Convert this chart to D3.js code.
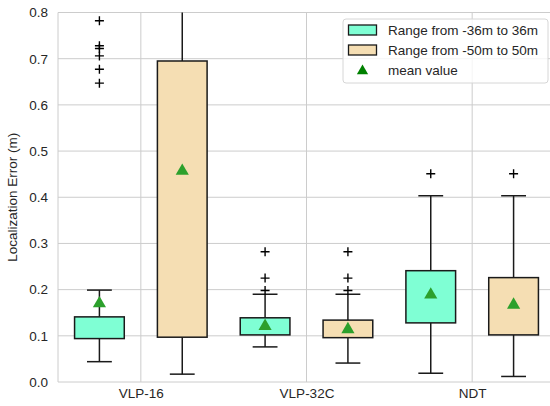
<!DOCTYPE html>
<html>
<head>
<meta charset="utf-8">
<script src="https://cdn.jsdelivr.net/npm/d3@7"></script>
<style>
  body { margin: 0; background: #fff; }
  text { font-family: "Liberation Sans", Arial, sans-serif; }
</style>
</head>
<body>
<div id="chart"></div>
<script>
const categories = ["VLP-16", "VLP-32C", "NDT"];
const seriesNames = ["Range from -36m to 36m", "Range from -50m to 50m"];
const seriesColors = ["#7fffd4", "#f5deb3"];
const yTicks = [0.0, 0.1, 0.2, 0.3, 0.4, 0.5, 0.6, 0.7, 0.8];

// box stats per series, in category order: [whiskerLow, q1, q3, whiskerHigh]
const boxes36 = [
  [0.044, 0.094, 0.141, 0.199],
  [0.076, 0.102, 0.139, 0.190],
  [0.019, 0.128, 0.241, 0.403]
];
const boxes50 = [
  [0.017, 0.097, 0.695, 1.50],
  [0.041, 0.096, 0.134, 0.190],
  [0.012, 0.102, 0.226, 0.403]
];
const means36 = [0.172, 0.123, 0.191];
const means50 = [0.459, 0.116, 0.169];
const outliers36 = [
  [0.647, 0.677, 0.706, 0.722, 0.728, 0.782],
  [0.198, 0.225, 0.282],
  [0.451]
];
const outliers50 = [
  [],
  [0.198, 0.225, 0.282],
  [0.451]
];

const W = 550, H = 406;
const margin = {left: 58, top: 12.5, bottom: 24};
const x = d3.scaleLinear().domain([0.5, 3.5]).range([58, 555]);
const y = d3.scaleLinear().domain([0, 0.8]).range([H - margin.bottom, margin.top]);

const svg = d3.select("#chart").append("svg")
  .attr("width", W).attr("height", H);

svg.append("clipPath").attr("id", "plot")
  .append("rect")
  .attr("x", x(0.5)).attr("y", y(0.8))
  .attr("width", x(3.5) - x(0.5)).attr("height", y(0) - y(0.8));

// grid
const grid = svg.append("g").attr("stroke", "#cccccc").attr("stroke-width", 1);
grid.selectAll("line.h").data(yTicks).join("line")
  .attr("x1", x(0.5)).attr("x2", x(3.5))
  .attr("y1", d => y(d)).attr("y2", d => y(d));
grid.selectAll("line.v").data(categories).join("line")
  .attr("x1", (d, i) => x(i + 1)).attr("x2", (d, i) => x(i + 1))
  .attr("y1", y(0)).attr("y2", y(0.8));
grid.append("line")
  .attr("x1", x(0.5)).attr("x2", x(0.5))
  .attr("y1", y(0)).attr("y2", y(0.8));

// axes
const yAxis = svg.append("g")
  .attr("transform", `translate(${x(0.5)},0)`)
  .call(d3.axisLeft(y).tickValues(yTicks).tickFormat(d3.format(".1f")).tickSize(0).tickPadding(10));
yAxis.select(".domain").remove();
yAxis.selectAll("text").attr("fill", "#262626").style("font-size", "13.5px");

const xAxis = svg.append("g")
  .attr("transform", `translate(0,${y(0)})`)
  .call(d3.axisBottom(x).tickValues([1, 2, 3]).tickFormat((d) => categories[d - 1]).tickSize(0).tickPadding(6));
xAxis.select(".domain").remove();
xAxis.selectAll("text").attr("fill", "#262626").style("font-size", "13.5px");

svg.append("text")
  .attr("transform", `translate(17,${(y(0) + y(0.8)) / 2}) rotate(-90)`)
  .attr("text-anchor", "middle")
  .attr("fill", "#262626")
  .style("font-size", "13.5px")
  .text("Localization Error (m)");

// boxes
const plot = svg.append("g").attr("clip-path", "url(#plot)");
const offsets = [-0.25, 0.25];
const boxW = 0.3;
const series = [
  {boxes: boxes36, means: means36, outliers: outliers36},
  {boxes: boxes50, means: means50, outliers: outliers50}
];
const tri = d3.symbol().type(d3.symbolTriangle).size(75);

series.forEach((s, si) => {
  s.boxes.forEach((b, ci) => {
    const cx = ci + 1 + offsets[si];
    const [lo, q1, q3, hi] = b;
    const g = plot.append("g").attr("stroke", "#1a1a1a").attr("stroke-width", 1.5);
    g.append("line").attr("x1", x(cx)).attr("x2", x(cx)).attr("y1", y(lo)).attr("y2", y(q1));
    g.append("line").attr("x1", x(cx)).attr("x2", x(cx)).attr("y1", y(q3)).attr("y2", y(hi));
    g.append("line").attr("x1", x(cx - boxW / 4)).attr("x2", x(cx + boxW / 4)).attr("y1", y(lo)).attr("y2", y(lo));
    g.append("line").attr("x1", x(cx - boxW / 4)).attr("x2", x(cx + boxW / 4)).attr("y1", y(hi)).attr("y2", y(hi));
    g.append("rect")
      .attr("x", x(cx - boxW / 2)).attr("width", x(cx + boxW / 2) - x(cx - boxW / 2))
      .attr("y", y(q3)).attr("height", y(q1) - y(q3))
      .attr("fill", seriesColors[si]);
    s.outliers[ci].forEach(v => {
      const px = x(cx), py = y(v);
      plot.append("path")
        .attr("d", `M${px - 4.5},${py}H${px + 4.5}M${px},${py - 4.5}V${py + 4.5}`)
        .attr("stroke", "#000").attr("stroke-width", 1.4);
    });
    plot.append("path")
      .attr("d", tri)
      .attr("transform", `translate(${x(cx)},${y(s.means[ci]) + 1})`)
      .attr("fill", "#2ca02c");
  });
});

// legend
const lg = svg.append("g").attr("transform", "translate(343,19)");
lg.append("rect").attr("width", 205).attr("height", 64).attr("rx", 3)
  .attr("fill", "#fff").attr("fill-opacity", 0.8).attr("stroke", "#d6d6d6");
seriesNames.forEach((n, i) => {
  const ry = 11 + i * 20;
  lg.append("rect").attr("x", 5.5).attr("y", ry - 5).attr("width", 28).attr("height", 10)
    .attr("fill", seriesColors[i]).attr("stroke", "#1a1a1a").attr("stroke-width", 1.3);
  lg.append("text").attr("x", 45).attr("y", ry).attr("dy", "0.35em")
    .attr("fill", "#262626").style("font-size", "13.5px").text(n);
});
lg.append("path").attr("d", d3.symbol().type(d3.symbolTriangle).size(55))
  .attr("transform", "translate(19.5,52)").attr("fill", "#008000");
lg.append("text").attr("x", 45).attr("y", 51).attr("dy", "0.35em")
  .attr("fill", "#262626").style("font-size", "13.5px").text("mean value");
</script>
</body>
</html>
